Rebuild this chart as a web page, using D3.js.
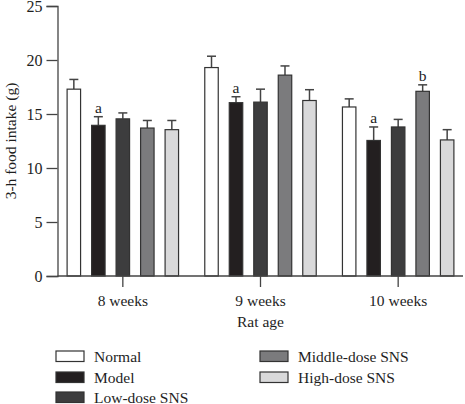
<!DOCTYPE html>
<html>
<head>
<meta charset="utf-8">
<script src="https://cdn.jsdelivr.net/npm/d3@7"></script>
<style>
  body { margin: 0; background: #fff; }
  svg { display: block; font-family: 'Liberation Serif', 'DejaVu Serif', serif; }
</style>
</head>
<body>
<div id="chart"></div>
<script>
const ages = ['8 weeks', '9 weeks', '10 weeks'];
const groups = ['Normal', 'Model', 'Low-dose SNS', 'Middle-dose SNS', 'High-dose SNS'];
const colors = ['#ffffff', '#231f20', '#3d3d3e', '#7b7b7d', '#d9d9da'];

// mean and top of error bar, one array per group, in order of ages
const means = {
  'Normal': [17.3, 19.3, 15.65],
  'Model': [13.95, 16.05, 12.55],
  'Low-dose SNS': [14.55, 16.1, 13.8],
  'Middle-dose SNS': [13.7, 18.6, 17.1],
  'High-dose SNS': [13.55, 16.25, 12.6],
};
const errTops = {
  'Normal': [18.2, 20.35, 16.4],
  'Model': [14.75, 16.6, 13.8],
  'Low-dose SNS': [15.1, 17.3, 14.5],
  'Middle-dose SNS': [14.4, 19.45, 17.7],
  'High-dose SNS': [14.4, 17.25, 13.55],
};
const marks = [
  { age: '8 weeks', group: 'Model', text: 'a' },
  { age: '9 weeks', group: 'Model', text: 'a' },
  { age: '10 weeks', group: 'Model', text: 'a' },
  { age: '10 weeks', group: 'Middle-dose SNS', text: 'b' },
];
const yTicks = [0, 5, 10, 15, 20, 25];

const size = { width: 465, height: 404 };
const svg = d3.select('#chart').append('svg')
  .attr('width', size.width)
  .attr('height', size.height);

const axisColor = '#444';
const textColor = '#1e1e1e';
const fontSize = '15.5px';
const left = 57.5;
const bottom = 276;

const x0 = d3.scaleBand().domain(ages).range([54, 467]);
const x1 = d3.scaleBand().domain(groups).range([0, x0.bandwidth()])
  .paddingInner(0.45).paddingOuter(0.535);
const y = d3.scaleLinear().domain([0, 25]).range([bottom, 6]);
const color = d3.scaleOrdinal().domain(groups).range(colors);

// y axis
const yAxis = svg.append('g')
  .attr('transform', `translate(${left},0)`)
  .call(d3.axisLeft(y).tickValues(yTicks).tickSize(11).tickPadding(4));
yAxis.select('.domain').attr('stroke', axisColor).attr('stroke-width', 1.3);
yAxis.selectAll('.tick line').attr('stroke', axisColor).attr('stroke-width', 1.3);
yAxis.selectAll('.tick text')
  .attr('fill', textColor)
  .style('font-size', '16px')
  .style('font-family', "'Liberation Serif', serif");

svg.append('text')
  .attr('transform', `translate(16,${(y(0) + y(25)) / 2}) rotate(-90)`)
  .attr('text-anchor', 'middle')
  .attr('fill', textColor)
  .style('font-size', fontSize)
  .text('3-h food intake (g)');

// bars
const rows = [];
ages.forEach((age, i) => {
  groups.forEach((g) => {
    rows.push({ age, group: g, value: means[g][i], top: errTops[g][i] });
  });
});

const bars = svg.append('g');
const barX = (d) => x0(d.age) + x1(d.group);

bars.selectAll('line.err')
  .data(rows)
  .enter()
  .append('line')
  .attr('class', 'err')
  .attr('x1', (d) => barX(d) + x1.bandwidth() / 2)
  .attr('x2', (d) => barX(d) + x1.bandwidth() / 2)
  .attr('y1', (d) => y(d.value))
  .attr('y2', (d) => y(d.top))
  .attr('stroke', axisColor)
  .attr('stroke-width', 1.5);

bars.selectAll('line.cap')
  .data(rows)
  .enter()
  .append('line')
  .attr('class', 'cap')
  .attr('x1', (d) => barX(d) + x1.bandwidth() / 2 - 4.5)
  .attr('x2', (d) => barX(d) + x1.bandwidth() / 2 + 4.5)
  .attr('y1', (d) => y(d.top))
  .attr('y2', (d) => y(d.top))
  .attr('stroke', axisColor)
  .attr('stroke-width', 1.5);

bars.selectAll('rect')
  .data(rows)
  .enter()
  .append('rect')
  .attr('x', barX)
  .attr('y', (d) => y(d.value))
  .attr('width', x1.bandwidth())
  .attr('height', (d) => y(0) - y(d.value))
  .attr('fill', (d) => color(d.group))
  .attr('stroke', '#333')
  .attr('stroke-width', 1.2);

// significance letters
svg.append('g')
  .selectAll('text')
  .data(marks)
  .enter()
  .append('text')
  .attr('x', (d) => x0(d.age) + x1(d.group) + x1.bandwidth() / 2)
  .attr('y', (d) => y(errTops[d.group][ages.indexOf(d.age)]) - 4)
  .attr('text-anchor', 'middle')
  .attr('fill', textColor)
  .style('font-size', fontSize)
  .text((d) => d.text);

// x axis
const xAxis = svg.append('g')
  .attr('transform', `translate(0,${bottom})`)
  .call(d3.axisBottom(x0).tickSize(11).tickPadding(8));
xAxis.select('.domain').remove();
xAxis.append('line')
  .attr('x1', left)
  .attr('x2', 463)
  .attr('stroke', axisColor)
  .attr('stroke-width', 1.3);
xAxis.selectAll('.tick line').attr('stroke', axisColor).attr('stroke-width', 1.3);
xAxis.selectAll('.tick text')
  .attr('fill', textColor)
  .style('font-size', fontSize)
  .style('font-family', "'Liberation Serif', serif");

svg.append('text')
  .attr('x', x0('9 weeks') + x0.bandwidth() / 2)
  .attr('y', 327)
  .attr('text-anchor', 'middle')
  .attr('fill', textColor)
  .style('font-size', fontSize)
  .text('Rat age');

// legend
const legendPos = [
  [56, 351], [56, 372], [56, 392], [260, 351], [260, 372],
];
const legend = svg.append('g')
  .selectAll('g')
  .data(groups)
  .enter()
  .append('g')
  .attr('transform', (d, i) => `translate(${legendPos[i][0]},${legendPos[i][1]})`);

legend.append('rect')
  .attr('width', 28)
  .attr('height', 10.5)
  .attr('fill', (d) => color(d))
  .attr('stroke', '#333')
  .attr('stroke-width', 1.2);

legend.append('text')
  .attr('x', 38)
  .attr('y', 10.5)
  .attr('fill', textColor)
  .style('font-size', fontSize)
  .text((d) => d);
</script>
</body>
</html>
